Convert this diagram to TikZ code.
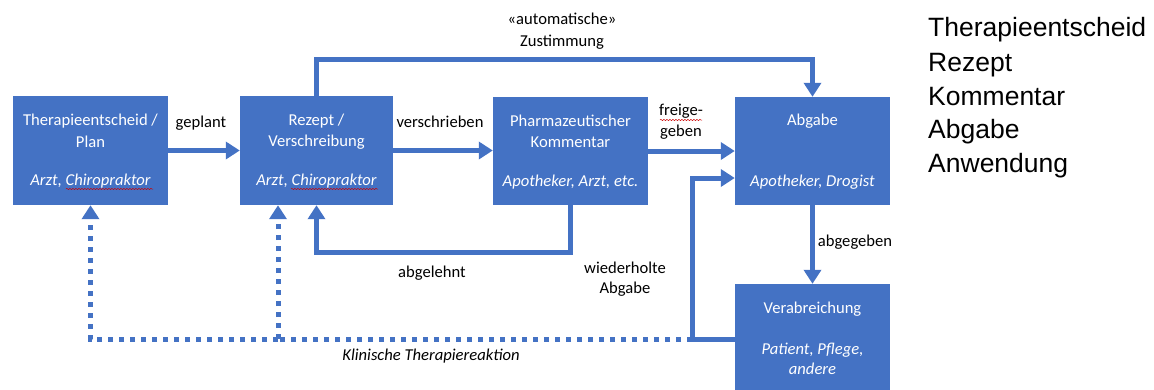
\documentclass[tikz,border=0pt]{standalone}
\usepackage{fontspec}
\setmainfont{Carlito}
\newfontfamily\arialfont{Liberation Sans}
\usetikzlibrary{arrows.meta,decorations.pathmorphing}
\definecolor{obl}{HTML}{4472C4}
\begin{document}
\begin{tikzpicture}[x=1pt,y=-1pt,
  box/.style={fill=obl,draw=none,inner sep=0pt,minimum width=155pt,minimum height=109pt},
  wt/.style={text=white,font=\fontsize{16.6}{20}\selectfont,inner sep=0pt},
  wti/.style={wt,font=\fontsize{16.6}{20}\selectfont\itshape},
  lbl/.style={text=black,font=\fontsize{16.6}{20}\selectfont,inner sep=0pt,align=center},
  conn/.style={draw=obl,line width=5pt},
  arr/.style={conn,-{Triangle[width=17pt,length=14pt]}},
  dots/.style={draw=obl,line width=5pt,dash pattern=on 5pt off 6pt},
  squig/.style={draw=red!80!black,line width=0.5pt,decorate,decoration={snake,segment length=3pt,amplitude=0.6pt}},
  lst/.style={font=\arialfont\fontsize{26.5}{30}\selectfont,anchor=base west,inner sep=0pt}
]
\useasboundingbox (0,0) rectangle (1154,389);

% boxes
\node[box] (b1) at (90.5,150.5) {};
\node[box,minimum width=153pt] (b2) at (316.5,150.5) {};
\node[box,minimum height=108pt] (b3) at (570.5,151) {};
\node[box,minimum height=108pt] (b4) at (812.5,151) {};
\node[box,minimum height=110pt] (b5) at (812.5,339) {};

% box texts
\node[wt] (t1a) at (90.5,121) {Therapieentscheid /};
\node[wt] (t1b) at (90.5,142) {Plan};
\node[wti] (t1c) at (90.5,181) {Arzt, Chiropraktor};
\node[wt] (t2a) at (316.5,121) {Rezept /};
\node[wt] (t2b) at (316.5,142) {Verschreibung};
\node[wti] (t2c) at (316.5,181) {Arzt, Chiropraktor};
\node[wt] (t3a) at (570.5,121) {Pharmazeutischer};
\node[wt] (t3b) at (570.5,142) {Kommentar};
\node[wti] (t3c) at (570.5,182) {Apotheker, Arzt, etc.};
\node[wt] (t4a) at (812.5,121) {Abgabe};
\node[wti] (t4c) at (812.5,182) {Apotheker, Drogist};
\node[wt] (t5a) at (812.5,309) {Verabreichung};
\node[wti] (t5b) at (812.5,350) {Patient, Pflege,};
\node[wti] (t5c) at (812.5,369) {andere};

% spell-check squiggles
\path[squig] (66,189) -- (153,189);
\path[squig] (291,189) -- (378,189);
\path[squig] (660,120) -- (702,120);

% coordinates
\coordinate (top) at (316.5,59);
\coordinate (rej) at (570.5,252);
\coordinate (rp) at (692,339);
\coordinate (rpt) at (692,178);
\coordinate (d2) at (278,339);

% solid connectors
\draw[arr] (b1.east) -- (b2.west);
\draw[arr] (b2.east) -- (b2.east -| b3.west);
\draw[arr] (b3.east) -- (b4.west);
\draw[arr] (b2.north) -- (top) -| (b4.north);
\draw[arr] (b3.south) -- (rej) -| (b2.south);
\draw[arr] (b4.south) -- (b5.north);
\draw[arr] (b5.west |- rp) -- (rp) -- (rpt) -- (rpt -| b4.west);

% dotted connectors
\draw[dots] (rp) -- (d2);
\draw[dots,-{Triangle[width=17pt,length=14pt]}] (d2) -| (b1.south);
\draw[dots,-{Triangle[width=17pt,length=14pt]}] (d2) -- (d2 |- b2.south);

% labels
\node[lbl] (lg) at (201,123) {geplant};
\node[lbl] (lv) at (440,122) {verschrieben};
\node[lbl,font=\fontsize{16.6}{21}\selectfont] (lf) at (681,122) {freige-\\geben};
\node[lbl] (lab) at (855,242) {abgegeben};
\node[lbl,font=\fontsize{16.6}{20}\selectfont] (lw) at (625,279) {wiederholte\\Abgabe};
\node[lbl] (lr) at (432,273) {abgelehnt};
\node[lbl,font=\fontsize{16.6}{20}\selectfont\itshape] (lk) at (431,356) {Klinische Therapiereaktion};
\node[lbl,font=\fontsize{16.6}{22}\selectfont] (lz) at (562,31) {«automatische»\\Zustimmung};

% right list
\node[lst] (r1) at (928,36) {Therapieentscheid};
\node[lst] (r2) at (928,71) {Rezept};
\node[lst] (r3) at (928,105) {Kommentar};
\node[lst] (r4) at (928,138) {Abgabe};
\node[lst] (r5) at (928,172) {Anwendung};
\end{tikzpicture}
\end{document}
